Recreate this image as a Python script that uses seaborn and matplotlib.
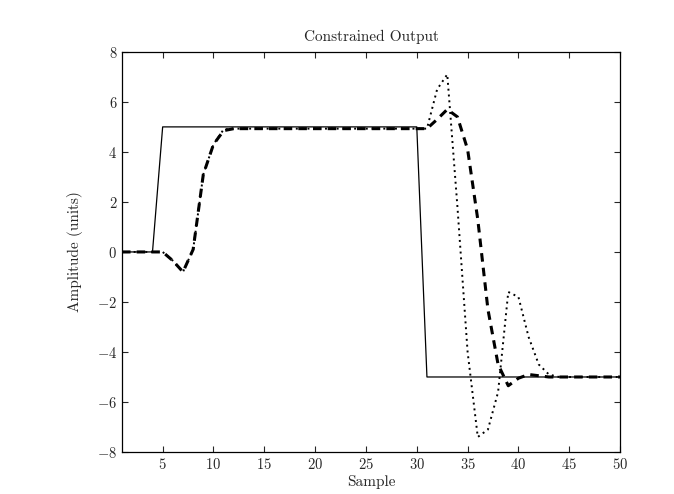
import numpy as np
import pandas as pd
import matplotlib
matplotlib.use('Agg')
import matplotlib.pyplot as plt
import seaborn as sns

# 样本序号
samples = list(range(1, 51))

# 参考信号（实线）
reference = [0, 0, 0, 0] + [5] * 26 + [-5] * 20

# 约束输出（虚线）
constrained = [0, 0, 0, 0, 0, -0.35, -0.8, 0.1, 3.1, 4.3, 4.85, 4.93] + [4.93] * 19 + \
    [5.3, 5.7, 5.4, 4.1, 1.3, -2.3, -4.5, -5.35, -5.05, -4.9, -4.95] + [-5.0] * 8

# 无约束输出（点线）
unconstrained = [0, 0, 0, 0, 0, -0.35, -0.8, 0.1, 3.1, 4.3, 4.9, 4.93] + [4.93] * 19 + \
    [6.5, 7.1, 1.8, -4.0, -7.4, -7.1, -5.6, -1.6, -1.8, -3.4, -4.5, -4.9] + [-5.0] * 7

df = pd.DataFrame({
    'Sample': samples,
    'reference': reference,
    'constrained': constrained,
    'unconstrained': unconstrained,
})

sns.set_style('ticks')
plt.rcParams['font.family'] = 'serif'
plt.rcParams['font.serif'] = ['cmr10', 'DejaVu Serif']
plt.rcParams['axes.unicode_minus'] = False
plt.rcParams['axes.formatter.use_mathtext'] = True

fig = plt.figure(figsize=(6.74, 4.94), dpi=100)
ax = fig.add_axes([0.181, 0.085, 0.739, 0.81])

sns.lineplot(data=df, x='Sample', y='reference', color='k', linewidth=0.9, ax=ax)
sns.lineplot(data=df, x='Sample', y='unconstrained', color='k', linewidth=1.4,
             linestyle=(0, (1, 2)), ax=ax)
sns.lineplot(data=df, x='Sample', y='constrained', color='k', linewidth=2.2,
             linestyle=(0, (2.8, 2.0)), ax=ax)

ax.set_xlim(1, 50)
ax.set_ylim(-8, 8)
ax.set_xticks(range(5, 51, 5))
ax.set_yticks(range(-8, 9, 2))
ax.tick_params(direction='in', top=True, right=True, labelsize=10.5, length=4, width=0.8)
for s in ax.spines.values():
    s.set_linewidth(0.9)
    s.set_color('k')

ax.set_title('Constrained Output', fontsize=11, pad=8)
ax.set_xlabel('Sample', fontsize=11, labelpad=2)
ax.set_ylabel('Amplitude (units)', fontsize=11, labelpad=10)

plt.savefig('out.png', dpi=100)
plt.close()
